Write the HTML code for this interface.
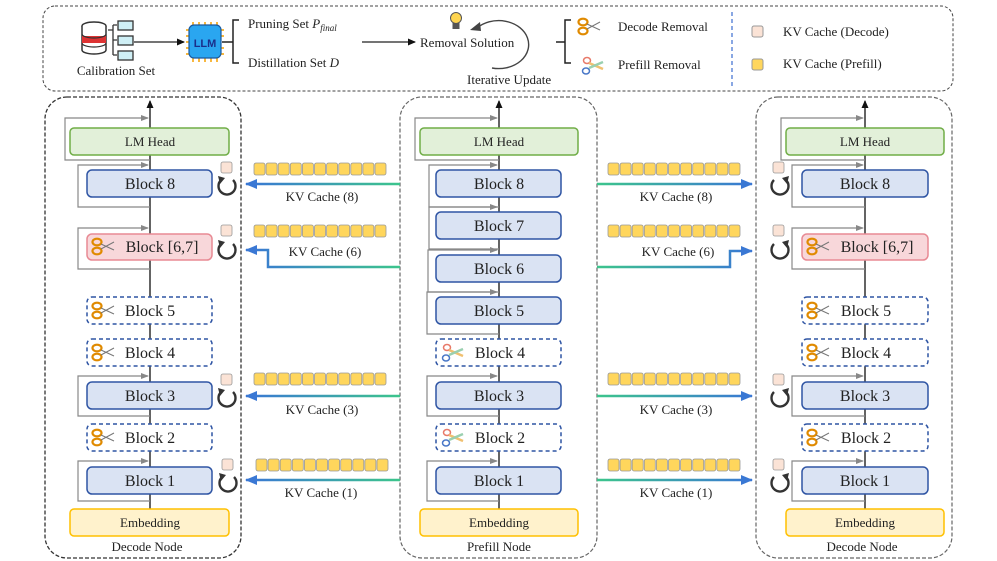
<!DOCTYPE html>
<html><head><meta charset="utf-8"><style>
html,body{margin:0;padding:0;background:#fff}
svg{display:block}
text{font-family:"Liberation Serif",serif;fill:#222}
</style></head><body>
<svg width="997" height="561" viewBox="0 0 997 561" xmlns="http://www.w3.org/2000/svg">
<defs>
<marker id="ab" markerWidth="8" markerHeight="8" refX="7" refY="4" orient="auto" markerUnits="userSpaceOnUse"><path d="M0,0.5 L8,4 L0,7.5z" fill="#111"/></marker>
<marker id="ag" markerWidth="8" markerHeight="8" refX="7" refY="4" orient="auto" markerUnits="userSpaceOnUse"><path d="M0,1 L8,4 L0,7z" fill="#888"/></marker>
<marker id="abl" markerWidth="12" markerHeight="10" refX="11" refY="5" orient="auto" markerUnits="userSpaceOnUse"><path d="M0,0 L12,5 L0,10z" fill="#3a78d4"/></marker>
<linearGradient id="gl" gradientUnits="userSpaceOnUse" x1="400" y1="0" x2="250" y2="0"><stop offset="0" stop-color="#3cc58c"/><stop offset="1" stop-color="#3a78d4"/></linearGradient>
<linearGradient id="gr" gradientUnits="userSpaceOnUse" x1="597" y1="0" x2="750" y2="0"><stop offset="0" stop-color="#3cc58c"/><stop offset="1" stop-color="#3a78d4"/></linearGradient>
<g id="bar">
<rect x="0" y="0" width="11" height="12" rx="2" fill="#ffd65c" stroke="#999" stroke-width="0.8"/>
<rect x="12.1" y="0" width="11" height="12" rx="2" fill="#ffd65c" stroke="#999" stroke-width="0.8"/>
<rect x="24.2" y="0" width="11" height="12" rx="2" fill="#ffd65c" stroke="#999" stroke-width="0.8"/>
<rect x="36.3" y="0" width="11" height="12" rx="2" fill="#ffd65c" stroke="#999" stroke-width="0.8"/>
<rect x="48.4" y="0" width="11" height="12" rx="2" fill="#ffd65c" stroke="#999" stroke-width="0.8"/>
<rect x="60.5" y="0" width="11" height="12" rx="2" fill="#ffd65c" stroke="#999" stroke-width="0.8"/>
<rect x="72.6" y="0" width="11" height="12" rx="2" fill="#ffd65c" stroke="#999" stroke-width="0.8"/>
<rect x="84.7" y="0" width="11" height="12" rx="2" fill="#ffd65c" stroke="#999" stroke-width="0.8"/>
<rect x="96.8" y="0" width="11" height="12" rx="2" fill="#ffd65c" stroke="#999" stroke-width="0.8"/>
<rect x="108.9" y="0" width="11" height="12" rx="2" fill="#ffd65c" stroke="#999" stroke-width="0.8"/>
<rect x="121" y="0" width="11" height="12" rx="2" fill="#ffd65c" stroke="#999" stroke-width="0.8"/>
</g>
<g id="sc">
<ellipse cx="5" cy="4" rx="4.5" ry="3.3" fill="none" stroke="#e08a00" stroke-width="2.2"/>
<ellipse cx="5" cy="13" rx="4.5" ry="3.3" fill="none" stroke="#e08a00" stroke-width="2.2"/>
<path d="M9,6 L22,12 M9,11 L22,4" stroke="#777" stroke-width="1"/>
</g>
<g id="sp">
<ellipse cx="6" cy="3.5" rx="3.5" ry="3" fill="none" stroke="#e87a6a" stroke-width="1.5"/>
<ellipse cx="5" cy="14" rx="3.5" ry="3" fill="none" stroke="#4a78c8" stroke-width="1.5"/>
<path d="M8,6 L22,12" stroke="#f0c070" stroke-width="2.5"/><path d="M8,11 L22,5" stroke="#9ad0b0" stroke-width="2.5"/>
</g>
<g id="cl">
<path d="M6,-6 A8.5,8.5 0 1 1 -6,-6" fill="none" stroke="#333" stroke-width="2.4"/>
<path d="M-9,-10 L-2,-8 L-7,-2z" fill="#333"/>
</g>
<g id="cr">
<path d="M-6,-6 A8.5,8.5 0 1 0 6,-6" fill="none" stroke="#333" stroke-width="2.4"/>
<path d="M9,-10 L2,-8 L7,-2z" fill="#333"/>
</g>
</defs>

<rect x="43" y="6" width="910" height="85" rx="12" fill="none" stroke="#444" stroke-dasharray="3,2" stroke-width="1"/>
<g>
<ellipse cx="94" cy="26" rx="12" ry="4" fill="#fff" stroke="#333" stroke-width="1.5"/>
<path d="M82,26 V50 A12,4 0 0 0 106,50 V26" fill="#fff" stroke="#333" stroke-width="1.5"/>
<rect x="82" y="36" width="24" height="7" fill="#d33"/>
<path d="M82,34 A12,4 0 0 0 106,34 M82,43 A12,4 0 0 0 106,43" fill="none" stroke="#333" stroke-width="1.2"/>
<path d="M108,30 H113 M113,25 V55 M113,25 H117 M113,40 H117 M113,55 H117" stroke="#333" stroke-width="1.3" fill="none"/>
<rect x="118" y="21" width="15" height="9" fill="#cfeff5" stroke="#333" stroke-width="1.3"/>
<rect x="118" y="36" width="15" height="9" fill="#cfeff5" stroke="#333" stroke-width="1.3"/>
<rect x="118" y="51" width="15" height="9" fill="#cfeff5" stroke="#333" stroke-width="1.3"/>
</g>
<text x="116" y="75" font-size="13" text-anchor="middle">Calibration Set</text>
<line x1="134" y1="42" x2="184" y2="42" stroke="#222" stroke-width="1.3" marker-end="url(#ab)"/>
<g stroke="#f5a000" stroke-width="1.5">
<path d="M193,22 V26 M199,22 V26 M205,22 V26 M211,22 V26 M217,22 V26 M193,58 V62 M199,58 V62 M205,58 V62 M211,58 V62 M217,58 V62 M186,30 H190 M186,36 H190 M186,42 H190 M186,48 H190 M186,54 H190 M220,30 H224 M220,36 H224 M220,48 H224 M220,54 H224"/>
</g>
<rect x="189" y="25" width="32" height="33" rx="5" fill="#2aa6f0" stroke="#1a5aa0" stroke-width="1.2"/>
<text x="205" y="47" font-size="11" font-weight="bold" text-anchor="middle" style="font-family:'Liberation Sans',sans-serif;fill:#1a2f8a">LLM</text>
<path d="M222,42 H233 M239,20 H233 V63 H239" stroke="#222" stroke-width="1.5" fill="none"/>
<text x="248" y="28" font-size="13">Pruning Set <tspan font-style="italic">P</tspan><tspan font-style="italic" font-size="9" dy="3">final</tspan></text>
<text x="248" y="67" font-size="13">Distillation Set <tspan font-style="italic">D</tspan></text>
<line x1="362" y1="42" x2="415" y2="42" stroke="#222" stroke-width="1.3" marker-end="url(#ab)"/>
<circle cx="456" cy="18" r="5.5" fill="#ffd54f" stroke="#555" stroke-width="1"/>
<rect x="452.5" y="23" width="7" height="6" fill="#555"/>
<text x="420" y="47" font-size="13">Removal Solution</text>
<path d="M477,28 A30,24 0 1 1 492,68" fill="none" stroke="#444" stroke-width="1.4"/>
<path d="M470,30 L480,22 L481,31z" fill="#444"/>
<text x="467" y="84" font-size="13">Iterative Update</text>
<path d="M556,42 H565 M571,20 H565 V63 H571" stroke="#222" stroke-width="1.5" fill="none"/>
<use href="#sc" x="578" y="18"/>
<use href="#sp" x="581" y="57"/>
<text x="618" y="31" font-size="13">Decode Removal</text>
<text x="618" y="69" font-size="13">Prefill Removal</text>
<line x1="732" y1="12" x2="732" y2="87" stroke="#4a78d4" stroke-width="1.3" stroke-dasharray="4,3"/>
<rect x="752" y="26" width="11" height="11" rx="2" fill="#fbe3d6" stroke="#999"/>
<rect x="752" y="59" width="11" height="11" rx="2" fill="#ffd65c" stroke="#999"/>
<text x="783" y="36" font-size="13">KV Cache (Decode)</text>
<text x="783" y="68" font-size="13">KV Cache (Prefill)</text>

<rect x="45" y="97" width="196" height="461" rx="22" fill="none" stroke="#333" stroke-width="1.3" stroke-dasharray="4,2"/>
<rect x="400" y="97" width="197" height="461" rx="22" fill="none" stroke="#666" stroke-width="1.2" stroke-dasharray="4,2"/>
<rect x="756" y="97" width="196" height="461" rx="22" fill="none" stroke="#666" stroke-width="1.2" stroke-dasharray="4,2"/>

<line x1="150" y1="509" x2="150" y2="101" stroke="#111" stroke-width="1.3" marker-end="url(#ab)"/>
<line x1="499" y1="509" x2="499" y2="101" stroke="#111" stroke-width="1.3" marker-end="url(#ab)"/>
<line x1="865" y1="509" x2="865" y2="101" stroke="#111" stroke-width="1.3" marker-end="url(#ab)"/>

<g fill="none" stroke="#888" stroke-width="1.2" marker-end="url(#ag)">
<path d="M150,160 H65 V118 H148"/>
<path d="M150,207 H78 V165 H148"/>
<path d="M150,269 H78 V228 H148"/>
<path d="M150,416 H78 V376 H148"/>
<path d="M150,501 H78 V461 H148"/>
<path d="M499,160 H415 V118 H497"/>
<path d="M499,207 H429 V165 H497"/>
<path d="M499,249 H429 V207 H497"/>
<path d="M499,292 H428 V250 H497"/>
<path d="M499,334 H427 V292 H497"/>
<path d="M499,416 H427 V376 H497"/>
<path d="M499,501 H427 V461 H497"/>
<path d="M865,160 H781 V118 H863"/>
<path d="M865,207 H792 V165 H863"/>
<path d="M865,269 H792 V228 H863"/>
<path d="M865,416 H792 V376 H863"/>
<path d="M865,501 H792 V461 H863"/>
</g>

<g font-size="16" text-anchor="middle">
<rect x="70" y="128" width="159" height="27" rx="4" fill="#e2f0d9" stroke="#70ad47" stroke-width="1.5"/>
<text x="150" y="146" font-size="13">LM Head</text>
<rect x="87" y="170" width="125" height="27" rx="5" fill="#dae3f3" stroke="#2f55a4" stroke-width="1.5"/>
<text x="150" y="189">Block 8</text>
<rect x="87" y="234" width="125" height="26" rx="5" fill="#f8d7da" stroke="#e88a94" stroke-width="1.5"/>
<use href="#sc" x="92" y="238"/><text x="162" y="252">Block [6,7]</text>
<rect x="87" y="297" width="125" height="27" rx="5" fill="#fff" stroke="#2f55a4" stroke-width="1.5" stroke-dasharray="4,3"/>
<use href="#sc" x="92" y="302"/><text x="150" y="316">Block 5</text>
<rect x="87" y="339" width="125" height="27" rx="5" fill="#fff" stroke="#2f55a4" stroke-width="1.5" stroke-dasharray="4,3"/>
<use href="#sc" x="92" y="344"/><text x="150" y="358">Block 4</text>
<rect x="87" y="382" width="125" height="27" rx="5" fill="#dae3f3" stroke="#2f55a4" stroke-width="1.5"/>
<text x="150" y="401">Block 3</text>
<rect x="87" y="424" width="125" height="27" rx="5" fill="#fff" stroke="#2f55a4" stroke-width="1.5" stroke-dasharray="4,3"/>
<use href="#sc" x="92" y="429"/><text x="150" y="443">Block 2</text>
<rect x="87" y="467" width="125" height="27" rx="5" fill="#dae3f3" stroke="#2f55a4" stroke-width="1.5"/>
<text x="150" y="486">Block 1</text>
<rect x="70" y="509" width="159" height="27" rx="4" fill="#fff2cc" stroke="#ffc000" stroke-width="1.5"/>
<text x="150" y="527" font-size="13">Embedding</text>
<text x="147" y="551" font-size="13">Decode Node</text>
</g>

<g font-size="16" text-anchor="middle">
<rect x="420" y="128" width="158" height="27" rx="4" fill="#e2f0d9" stroke="#70ad47" stroke-width="1.5"/>
<text x="499" y="146" font-size="13">LM Head</text>
<rect x="436" y="170" width="125" height="27" rx="5" fill="#dae3f3" stroke="#2f55a4" stroke-width="1.5"/><text x="499" y="189">Block 8</text>
<rect x="436" y="212" width="125" height="27" rx="5" fill="#dae3f3" stroke="#2f55a4" stroke-width="1.5"/><text x="499" y="231">Block 7</text>
<rect x="436" y="255" width="125" height="27" rx="5" fill="#dae3f3" stroke="#2f55a4" stroke-width="1.5"/><text x="499" y="274">Block 6</text>
<rect x="436" y="297" width="125" height="27" rx="5" fill="#dae3f3" stroke="#2f55a4" stroke-width="1.5"/><text x="499" y="316">Block 5</text>
<rect x="436" y="339" width="125" height="27" rx="5" fill="#fff" stroke="#2f55a4" stroke-width="1.5" stroke-dasharray="4,3"/>
<use href="#sp" x="441" y="344"/><text x="500" y="358">Block 4</text>
<rect x="436" y="382" width="125" height="27" rx="5" fill="#dae3f3" stroke="#2f55a4" stroke-width="1.5"/><text x="499" y="401">Block 3</text>
<rect x="436" y="424" width="125" height="27" rx="5" fill="#fff" stroke="#2f55a4" stroke-width="1.5" stroke-dasharray="4,3"/>
<use href="#sp" x="441" y="429"/><text x="500" y="443">Block 2</text>
<rect x="436" y="467" width="125" height="27" rx="5" fill="#dae3f3" stroke="#2f55a4" stroke-width="1.5"/><text x="499" y="486">Block 1</text>
<rect x="420" y="509" width="158" height="27" rx="4" fill="#fff2cc" stroke="#ffc000" stroke-width="1.5"/>
<text x="499" y="527" font-size="13">Embedding</text>
<text x="499" y="551" font-size="13">Prefill Node</text>
</g>

<g font-size="16" text-anchor="middle">
<rect x="786" y="128" width="158" height="27" rx="4" fill="#e2f0d9" stroke="#70ad47" stroke-width="1.5"/>
<text x="865" y="146" font-size="13">LM Head</text>
<rect x="802" y="170" width="126" height="27" rx="5" fill="#dae3f3" stroke="#2f55a4" stroke-width="1.5"/><text x="865" y="189">Block 8</text>
<rect x="802" y="234" width="126" height="26" rx="5" fill="#f8d7da" stroke="#e88a94" stroke-width="1.5"/>
<use href="#sc" x="807" y="238"/><text x="877" y="252">Block [6,7]</text>
<rect x="802" y="297" width="126" height="27" rx="5" fill="#fff" stroke="#2f55a4" stroke-width="1.5" stroke-dasharray="4,3"/>
<use href="#sc" x="807" y="302"/><text x="866" y="316">Block 5</text>
<rect x="802" y="339" width="126" height="27" rx="5" fill="#fff" stroke="#2f55a4" stroke-width="1.5" stroke-dasharray="4,3"/>
<use href="#sc" x="807" y="344"/><text x="866" y="358">Block 4</text>
<rect x="802" y="382" width="126" height="27" rx="5" fill="#dae3f3" stroke="#2f55a4" stroke-width="1.5"/><text x="865" y="401">Block 3</text>
<rect x="802" y="424" width="126" height="27" rx="5" fill="#fff" stroke="#2f55a4" stroke-width="1.5" stroke-dasharray="4,3"/>
<use href="#sc" x="807" y="429"/><text x="866" y="443">Block 2</text>
<rect x="802" y="467" width="126" height="27" rx="5" fill="#dae3f3" stroke="#2f55a4" stroke-width="1.5"/><text x="865" y="486">Block 1</text>
<rect x="786" y="509" width="158" height="27" rx="4" fill="#fff2cc" stroke="#ffc000" stroke-width="1.5"/>
<text x="865" y="527" font-size="13">Embedding</text>
<text x="862" y="551" font-size="13">Decode Node</text>
</g>

<g fill="#fbe3d6" stroke="#999" stroke-width="0.8">
<rect x="221" y="162" width="11" height="11" rx="2"/>
<rect x="221" y="225" width="11" height="11" rx="2"/>
<rect x="221" y="374" width="11" height="11" rx="2"/>
<rect x="222" y="459" width="11" height="11" rx="2"/>
<rect x="773" y="162" width="11" height="11" rx="2"/>
<rect x="773" y="225" width="11" height="11" rx="2"/>
<rect x="773" y="374" width="11" height="11" rx="2"/>
<rect x="773" y="459" width="11" height="11" rx="2"/>
</g>
<use href="#cl" x="227" y="186"/>
<use href="#cl" x="227" y="250"/>
<use href="#cl" x="227" y="398"/>
<use href="#cl" x="228" y="483"/>
<use href="#cr" x="780" y="186"/>
<use href="#cr" x="780" y="250"/>
<use href="#cr" x="780" y="398"/>
<use href="#cr" x="780" y="483"/>

<use href="#bar" x="254" y="163"/>
<use href="#bar" x="254" y="225"/>
<use href="#bar" x="254" y="373"/>
<use href="#bar" x="256" y="459"/>
<use href="#bar" x="608" y="163"/>
<use href="#bar" x="608" y="225"/>
<use href="#bar" x="608" y="373"/>
<use href="#bar" x="608" y="459"/>

<g fill="none" stroke-width="2.5">
<path d="M400,184 H246" stroke="url(#gl)" marker-end="url(#abl)"/>
<path d="M400,267 H268 V250 H246" stroke="url(#gl)" marker-end="url(#abl)"/>
<path d="M400,396 H246" stroke="url(#gl)" marker-end="url(#abl)"/>
<path d="M400,480 H246" stroke="url(#gl)" marker-end="url(#abl)"/>
<path d="M597,184 H752" stroke="url(#gr)" marker-end="url(#abl)"/>
<path d="M597,267 H730 V251 H752" stroke="url(#gr)" marker-end="url(#abl)"/>
<path d="M597,396 H752" stroke="url(#gr)" marker-end="url(#abl)"/>
<path d="M597,480 H752" stroke="url(#gr)" marker-end="url(#abl)"/>
</g>
<g font-size="13" text-anchor="middle">
<text x="322" y="201">KV Cache (8)</text>
<text x="325" y="256">KV Cache (6)</text>
<text x="322" y="414">KV Cache (3)</text>
<text x="321" y="497">KV Cache (1)</text>
<text x="676" y="201">KV Cache (8)</text>
<text x="678" y="256">KV Cache (6)</text>
<text x="676" y="414">KV Cache (3)</text>
<text x="676" y="497">KV Cache (1)</text>
</g>
</svg>
</body></html>
